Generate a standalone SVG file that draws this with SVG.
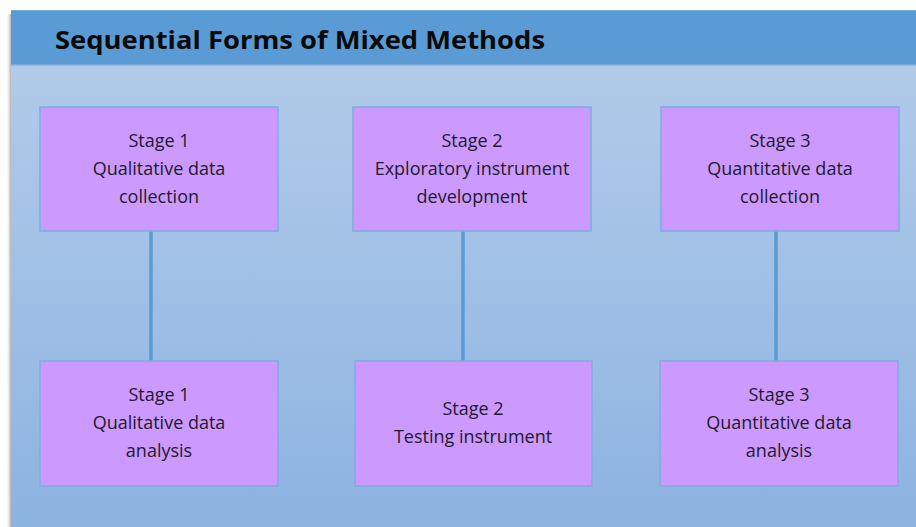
<svg xmlns="http://www.w3.org/2000/svg" width="916" height="527" viewBox="0 0 916 527">
<defs>
<linearGradient id="bg" x1="0" y1="0" x2="0" y2="1">
<stop offset="0" stop-color="#B1CBE9"/>
<stop offset="1" stop-color="#8DB3E1"/>
</linearGradient>
<linearGradient id="shadow" x1="0" y1="0" x2="1" y2="0">
<stop offset="0" stop-color="#ffffff" stop-opacity="0"/>
<stop offset="1" stop-color="#8a8a8a"/>
</linearGradient>
</defs>
<style>
.box{fill:#CC99FF;stroke:#7AAEE0;stroke-width:1.5}
.lbl{font-family:"Open Sans","Liberation Sans",sans-serif;font-size:18px;fill:#231a2e;text-anchor:middle}
.title{font-family:"Open Sans","Liberation Sans",sans-serif;font-size:25px;font-weight:bold;fill:#0a0a0a}
.conn{stroke:#5B9BD5;stroke-width:3.5;fill:none}
</style>
<rect x="0" y="0" width="916" height="527" fill="#ffffff"/>
<rect x="6" y="14" width="6" height="513" fill="url(#shadow)"/>
<g id="panel">
<rect x="11" y="65" width="905" height="462" fill="url(#bg)"/>
<rect x="11" y="10" width="905" height="55" fill="#5B9BD5"/>
<line x1="11" y1="10.5" x2="916" y2="10.5" stroke="#7EAEDC" stroke-width="1"/>
<line x1="11" y1="65" x2="916" y2="65" stroke="#86B0DC" stroke-width="1.5"/>
<text class="title" x="55" y="49" textLength="490" lengthAdjust="spacingAndGlyphs">Sequential Forms of Mixed Methods</text>
</g>
<g id="connectors">
<line class="conn" x1="151" y1="231" x2="151" y2="361"/>
<line class="conn" x1="463" y1="231" x2="463" y2="361"/>
<line class="conn" x1="776" y1="231" x2="776" y2="361"/>
</g>
<g id="n1">
<rect class="box" x="40" y="107" width="238" height="124"/>
<text class="lbl" x="159" y="147">Stage 1</text>
<text class="lbl" x="159" y="175">Qualitative data</text>
<text class="lbl" x="159" y="203">collection</text>
</g>
<g id="n2">
<rect class="box" x="353" y="107" width="238" height="124"/>
<text class="lbl" x="472" y="147">Stage 2</text>
<text class="lbl" x="472" y="175">Exploratory instrument</text>
<text class="lbl" x="472" y="203">development</text>
</g>
<g id="n3">
<rect class="box" x="661" y="107" width="238" height="124"/>
<text class="lbl" x="780" y="147">Stage 3</text>
<text class="lbl" x="780" y="175">Quantitative data</text>
<text class="lbl" x="780" y="203">collection</text>
</g>
<g id="n4">
<rect class="box" x="40" y="361" width="238" height="125"/>
<text class="lbl" x="159" y="401">Stage 1</text>
<text class="lbl" x="159" y="429">Qualitative data</text>
<text class="lbl" x="159" y="457">analysis</text>
</g>
<g id="n5">
<rect class="box" x="355" y="361" width="237" height="125"/>
<text class="lbl" x="473" y="415">Stage 2</text>
<text class="lbl" x="473" y="443">Testing instrument</text>
</g>
<g id="n6">
<rect class="box" x="660" y="361" width="238" height="125"/>
<text class="lbl" x="779" y="401">Stage 3</text>
<text class="lbl" x="779" y="429">Quantitative data</text>
<text class="lbl" x="779" y="457">analysis</text>
</g>
</svg>
